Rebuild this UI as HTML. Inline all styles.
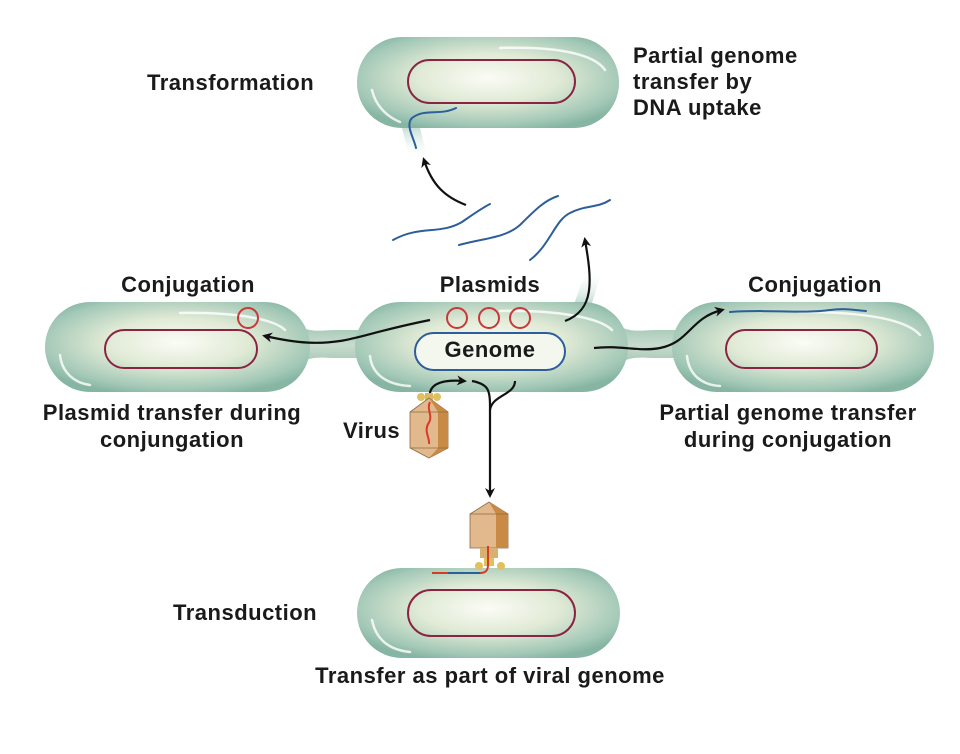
<!DOCTYPE html>
<html><head><meta charset="utf-8"><style>
html,body{margin:0;padding:0;background:#fff;}
svg{display:block;}
text{font-family:"Liberation Sans",sans-serif;font-weight:bold;font-size:22px;letter-spacing:0.5px;fill:#1a1a1a;}
</style></head><body>
<svg width="960" height="754" viewBox="0 0 960 754" xmlns="http://www.w3.org/2000/svg">
<defs>
<radialGradient id="cg" cx="0.5" cy="0.45" r="0.6">
<stop offset="0" stop-color="#fbfcf6"/>
<stop offset="0.45" stop-color="#e0ead5"/>
<stop offset="0.85" stop-color="#a3c8b7"/>
<stop offset="1" stop-color="#86b5a3"/>
</radialGradient>
<linearGradient id="br" x1="0" y1="0" x2="0" y2="1">
<stop offset="0" stop-color="#94bead"/><stop offset="0.5" stop-color="#c8dccd"/><stop offset="1" stop-color="#94bead"/>
</linearGradient>
<linearGradient id="pil" x1="0" y1="0" x2="0" y2="1">
<stop offset="0" stop-color="#a8cdc0"/><stop offset="1" stop-color="#ffffff" stop-opacity="0"/>
</linearGradient>
<linearGradient id="pil2" x1="0" y1="1" x2="0" y2="0">
<stop offset="0" stop-color="#a8cdc0"/><stop offset="1" stop-color="#ffffff" stop-opacity="0"/>
</linearGradient>
<marker id="ah" markerWidth="10" markerHeight="10" refX="7" refY="5" orient="auto" markerUnits="userSpaceOnUse">
<path d="M0,0 L10,5 L0,10 L3,5 Z" fill="#111"/>
</marker>
</defs>

<path d="M290,318 C305,335 320,330 335,330 L365,330 L365,358 L335,358 C320,358 305,354 290,372 Z" fill="url(#br)"/>
<path d="M610,318 C625,335 640,330 655,330 L690,330 L690,358 L655,358 C640,358 625,354 610,372 Z" fill="url(#br)"/>
<path d="M400,120 L418,120 L428,160 L410,160 Z" fill="url(#pil)"/>
<path d="M572,310 L590,310 L602,270 L586,270 Z" fill="url(#pil2)"/>

<rect x="357" y="37" width="262" height="91" rx="45" fill="url(#cg)"/>
<rect x="45" y="302" width="265" height="90" rx="45" fill="url(#cg)"/>
<rect x="355" y="302" width="273" height="90" rx="45" fill="url(#cg)"/>
<rect x="672" y="302" width="262" height="90" rx="45" fill="url(#cg)"/>
<rect x="357" y="568" width="263" height="90" rx="45" fill="url(#cg)"/>
<g fill="none" stroke="#fff" stroke-width="2.5" opacity="0.8" stroke-linecap="round">
<path d="M372,90 C376,108 390,118 400,122"/>
<path d="M500,48 C560,46 595,55 605,70"/>
<path d="M60,355 C62,373 75,383 90,385"/>
<path d="M180,313 C240,312 275,320 285,330"/>
<path d="M370,356 C372,375 388,385 410,386"/>
<path d="M500,311 C560,310 600,318 612,330"/>
<path d="M687,356 C689,375 702,385 720,386"/>
<path d="M800,312 C860,312 905,318 920,335"/>
<path d="M372,620 C376,640 390,650 410,652"/>
</g>

<g fill="none" stroke="#8b2443" stroke-width="2">
<rect x="408" y="60" width="167" height="43" rx="21.5"/>
<rect x="105" y="330" width="152" height="38" rx="19"/>
<rect x="726" y="330" width="151" height="38" rx="19"/>
<rect x="408" y="590" width="167" height="46" rx="23"/>
</g>
<rect x="415" y="333" width="150" height="37" rx="18.5" fill="#f4f7ee" stroke="#2c5e9a" stroke-width="2"/>

<g fill="none" stroke="#c8393a" stroke-width="2">
<circle cx="457" cy="318" r="10"/><circle cx="489" cy="318" r="10"/><circle cx="520" cy="318" r="10"/>
<circle cx="248" cy="318" r="10"/>
</g>

<g fill="none" stroke="#2c5e9a" stroke-width="2" stroke-linecap="round">
<path d="M393,240 C420,225 440,235 462,222 C475,213 482,208 490,204"/>
<path d="M459,245 C485,238 505,238 520,225 C535,210 545,200 558,196"/>
<path d="M530,260 C550,245 555,220 570,213 C585,205 598,208 610,200"/>
<path d="M456,108 C440,116 425,108 412,118 C405,125 414,138 416,148"/>
<path d="M730,312 C770,309 800,314 830,310 C845,308 855,310 866,311"/>
</g>

<g fill="none" stroke="#111" stroke-width="2.2">
<path d="M466,205 C445,197 432,185 424,160" marker-end="url(#ah)"/>
<path d="M565,321 C595,310 592,280 585,240" marker-end="url(#ah)"/>
<path d="M430,320 C380,330 360,338 340,341 C320,344 300,344 265,336" marker-end="url(#ah)"/>
<path d="M594,348 C620,345 640,352 660,348 C690,342 690,318 722,310" marker-end="url(#ah)"/>
<path d="M430,398 C428,385 440,379 464,381" marker-end="url(#ah)"/>
<path d="M472,381 C488,384 490,390 490,405 L490,495" marker-end="url(#ah)"/>
<path d="M515,381 C515,395 492,395 490,410"/>
</g>

<g>
<circle cx="421" cy="397" r="4" fill="#e0c060"/><circle cx="437" cy="397" r="4" fill="#e0c060"/>
<rect x="425" y="393" width="8" height="8" fill="#d8b860"/>
<polygon points="410,412 429,398 448,412 448,448 429,458 410,448" fill="#e2b98c" stroke="#8a6a45" stroke-width="0.8"/>
<polygon points="429,398 448,412 448,448 429,458 438,448 438,412" fill="#c98a45"/>
<polyline points="410,412 448,412" stroke="#8a6a45" stroke-width="0.8" fill="none"/>
<polyline points="410,448 448,448" stroke="#8a6a45" stroke-width="0.8" fill="none"/>
<path d="M430,402 C426,410 434,416 428,424 C424,432 430,438 429,444" stroke="#d83a2a" stroke-width="2" fill="none"/>
</g>
<g>
<polygon points="470,514 489,502 508,514 508,548 489,548 470,548" fill="#e2b98c" stroke="#8a6a45" stroke-width="0.8"/>
<polygon points="489,502 508,514 508,548 496,548 496,514" fill="#c98a45"/>
<polyline points="470,514 508,514" stroke="#8a6a45" stroke-width="0.8" fill="none"/>
<rect x="480" y="548" width="18" height="10" fill="#d8b070"/>
<rect x="484" y="558" width="10" height="8" fill="#e0c060"/>
<circle cx="479" cy="566" r="4" fill="#e0c060"/><circle cx="501" cy="566" r="4" fill="#e0c060"/>
<path d="M488,546 L488,565 C488,571 485,573 480,573 L432,573" stroke="#d83a2a" stroke-width="2" fill="none"/>
<path d="M448,573 L480,573" stroke="#2c5e9a" stroke-width="2" fill="none"/>
</g>

<text x="147" y="90">Transformation</text>
<text x="633" y="63">Partial genome</text>
<text x="633" y="89">transfer by</text>
<text x="633" y="115">DNA uptake</text>
<text x="188" y="292" text-anchor="middle">Conjugation</text>
<text x="490" y="292" text-anchor="middle">Plasmids</text>
<text x="815" y="292" text-anchor="middle">Conjugation</text>
<text x="490" y="357" text-anchor="middle">Genome</text>
<text x="172" y="420" text-anchor="middle">Plasmid transfer during</text>
<text x="172" y="447" text-anchor="middle">conjungation</text>
<text x="343" y="438">Virus</text>
<text x="788" y="420" text-anchor="middle">Partial genome transfer</text>
<text x="788" y="447" text-anchor="middle">during conjugation</text>
<text x="173" y="620">Transduction</text>
<text x="490" y="683" text-anchor="middle">Transfer as part of viral genome</text>
</svg>
</body></html>
